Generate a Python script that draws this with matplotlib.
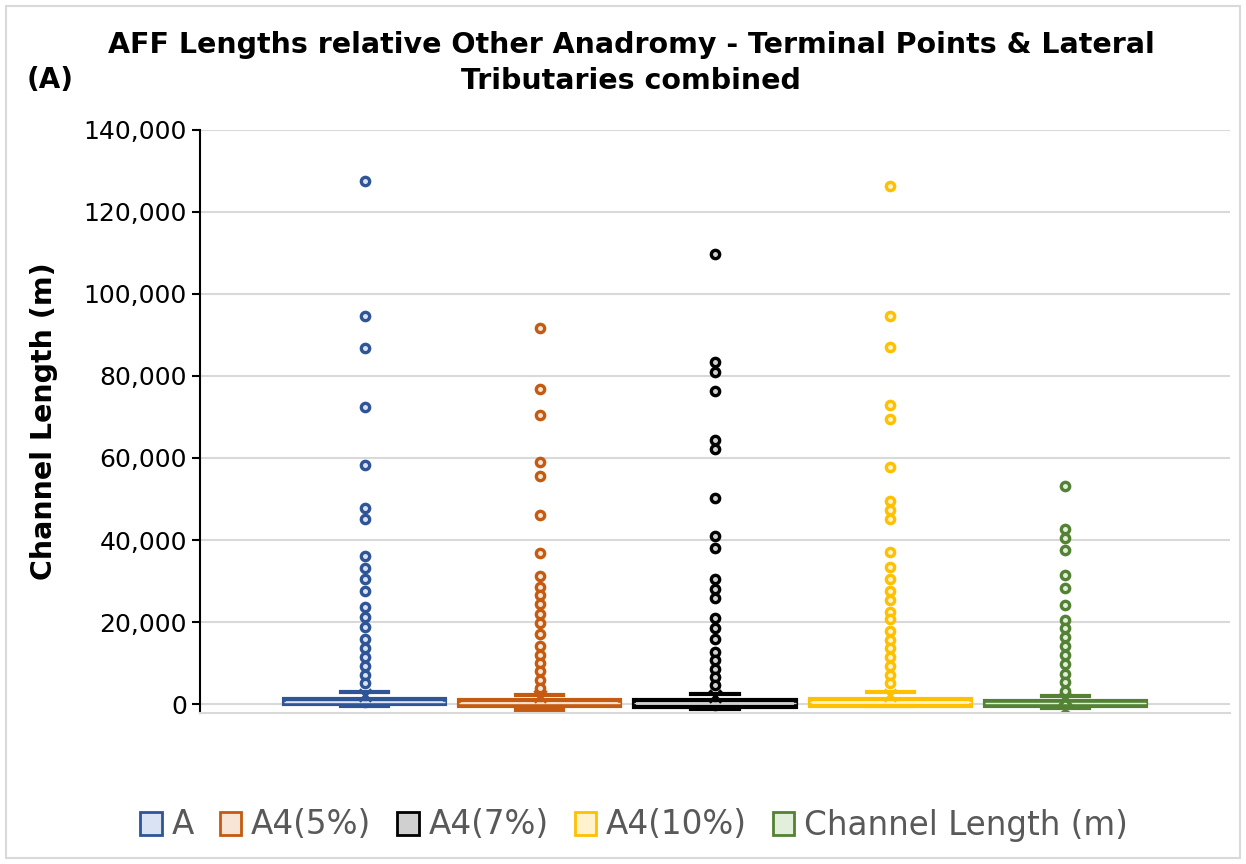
import matplotlib
matplotlib.use('Agg')
import matplotlib.pyplot as plt
from matplotlib.patches import Patch, Rectangle
from matplotlib.ticker import FuncFormatter

# series names and colours
names = ['A', 'A4(5%)', 'A4(7%)', 'A4(10%)', 'Channel Length (m)']
edge_colors = ['#2F5597', '#C55A11', '#000000', '#FFC000', '#548235']
fill_colors = ['#DAE3F3', '#F8E5D6', '#D0D0D0', '#FFF2CC', '#E2EFDA']

# box statistics (m)
q1 = [0, -500, -600, -300, -500]
median = [500, 300, 400, 500, 300]
q3 = [1300, 1050, 1100, 1200, 900]
whis_lo = [-300, -1400, -1100, -400, -1000]
whis_hi = [2900, 2300, 2500, 2900, 1900]
means = [2300, 1900, 2000, 2300, 1400]

# outliers (m)
out_a = [127500, 94600, 86800, 72400, 58300, 47700, 45100, 36000, 33200, 30400,
         27600, 23700, 21300, 18900, 15800, 13700, 11500, 9400, 7200, 5100]
out_a5 = [91600, 76700, 70500, 59100, 55700, 46100, 36900, 31200, 28600, 26600,
          24400, 22100, 19700, 17000, 14200, 12100, 10100, 8000, 6000, 4000]
out_a7 = [109700, 83300, 81000, 76200, 64400, 62300, 50300, 41000, 38000, 30500,
          28200, 25900, 21100, 18600, 15800, 12700, 10700, 8700, 6700, 4700]
out_a10 = [126200, 94600, 87100, 72900, 69400, 57700, 49600, 47400, 45100, 37000,
           33400, 30500, 27700, 25400, 22600, 20700, 17900, 15700, 13800, 11500,
           9400, 7200, 5100]
out_ch = [53200, 42800, 40400, 37600, 31500, 28300, 24200, 20600, 18500, 16300,
          14100, 11900, 9700, 7400, 5400, 3300, -2700]
outliers = [out_a, out_a5, out_a7, out_a10, out_ch]

fig = plt.figure(figsize=(12.46, 8.64), dpi=100)
ax = fig.add_axes([200 / 1246, 1 - 712.5 / 864, 1030 / 1246, 583 / 864])

for i in range(len(names)):
    stats = [{'q1': q1[i], 'med': median[i], 'q3': q3[i], 'whislo': whis_lo[i],
              'whishi': whis_hi[i], 'mean': means[i], 'fliers': outliers[i]}]
    c = edge_colors[i]
    ax.bxp(stats, positions=[i + 1], widths=0.92, capwidths=0.27,
           showmeans=True, patch_artist=True,
           boxprops=dict(facecolor=fill_colors[i], edgecolor=c, linewidth=3),
           medianprops=dict(color=fill_colors[i], linewidth=1),
           whiskerprops=dict(color=c, linewidth=2.5),
           capprops=dict(color=c, linewidth=3),
           meanprops=dict(marker='x', markeredgecolor=c, markersize=9, markeredgewidth=2.5),
           flierprops=dict(marker='o', markerfacecolor=fill_colors[i], markeredgecolor=c,
                           markersize=6, markeredgewidth=2.4))

ax.set_xlim(0.06, 5.94)
ax.set_ylim(-2000, 140000)
ax.set_yticks(range(0, 140001, 20000))
ax.yaxis.set_major_formatter(FuncFormatter(lambda v, p: f'{int(v):,}'))
ax.set_xticks([])
ax.tick_params(axis='y', labelsize=18, direction='out', length=6, width=1.5, colors='black')
ax.grid(axis='y', color='#D9D9D9', linewidth=1.5)
ax.set_axisbelow(True)
for s in ['top', 'right']:
    ax.spines[s].set_visible(False)
ax.spines['left'].set_linewidth(1.5)
ax.spines['bottom'].set_color('#D9D9D9')
ax.spines['bottom'].set_linewidth(1.5)

ax.set_ylabel('Channel Length (m)', fontsize=20.5, fontweight='bold', labelpad=18)

fig.text(631 / 1246, 1 - 45 / 864, 'AFF Lengths relative Other Anadromy - Terminal Points & Lateral',
         ha='center', va='center', fontsize=20.5, fontweight='bold')
fig.text(631 / 1246, 1 - 81 / 864, 'Tributaries combined',
         ha='center', va='center', fontsize=20.5, fontweight='bold')
fig.text(50 / 1246, 1 - 80 / 864, '(A)', ha='center', va='center', fontsize=20, fontweight='bold')

handles = [Patch(facecolor=fill_colors[i], edgecolor=edge_colors[i], linewidth=2)
           for i in range(len(names))]
fig.legend(handles, names, loc='center', bbox_to_anchor=(634 / 1246, 1 - 825 / 864),
           ncol=5, frameon=False, fontsize=23.5, labelcolor='#595959',
           handlelength=0.65, handleheight=0.7, handletextpad=0.3, columnspacing=0.8)

fig.patches.append(Rectangle((6 / 1246, 6 / 864), 1234 / 1246, 852 / 864,
                             transform=fig.transFigure, fill=False,
                             edgecolor='#D9D9D9', linewidth=1.5))

fig.savefig('out.png', dpi=100)
